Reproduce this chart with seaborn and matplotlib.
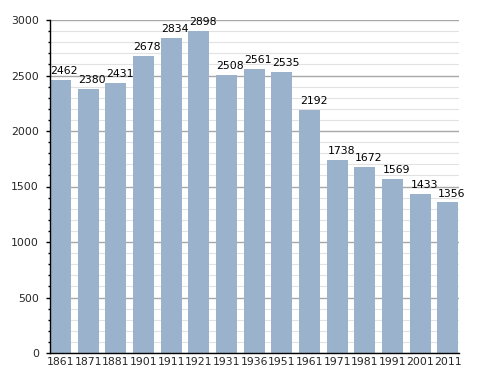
import matplotlib
matplotlib.use("Agg")
import matplotlib.pyplot as plt
import seaborn as sns
import pandas as pd
from matplotlib.ticker import MultipleLocator

years = ["1861", "1871", "1881", "1901", "1911", "1921", "1931", "1936", "1951",
         "1961", "1971", "1981", "1991", "2001", "2011"]
population = [2462, 2380, 2431, 2678, 2834, 2898, 2508, 2561, 2535,
              2192, 1738, 1672, 1569, 1433, 1356]

df = pd.DataFrame({"year": years, "pop": population})

sns.set_style("white")
plt.rcParams['font.family'] = ['DejaVu Sans']

fig = plt.figure(figsize=(4.88, 3.73), dpi=100)
ax = fig.add_axes([50/488, 1-353/373, (459-50)/488, (353-20)/373])

sns.barplot(data=df, x="year", y="pop", color="#9ab2cb", saturation=1,
            width=0.76, linewidth=0, edgecolor="none", ax=ax)

ax.set_ylim(0, 3000)
ax.set_xlim(-0.38, len(years) - 1 + 0.4)
ax.yaxis.set_major_locator(MultipleLocator(500))
ax.yaxis.set_minor_locator(MultipleLocator(100))
ax.grid(axis="y", which="major", color="#a8a8a8", linewidth=1)
ax.grid(axis="y", which="minor", color="#e2e2e2", linewidth=0.8)
ax.set_axisbelow(True)

for s in ["top", "right"]:
    ax.spines[s].set_visible(False)
for s in ["left", "bottom"]:
    ax.spines[s].set_color("black")
    ax.spines[s].set_linewidth(1)

ax.tick_params(axis="y", which="major", length=3, width=1, color="black",
               labelsize=7.8, pad=5, left=True)
ax.tick_params(axis="y", which="minor", length=1.6, width=1, color="black", left=True)
ax.tick_params(axis="x", which="both", length=0, labelsize=7.8, pad=3)

ax.set_xlabel("")
ax.set_ylabel("")

for i, v in enumerate(population):
    ax.annotate(str(v), (i, v), xytext=(2.8, 4.3), textcoords="offset points",
                ha="center", va="baseline", fontsize=7.8, color="black")

fig.savefig("out.png", dpi=100)
